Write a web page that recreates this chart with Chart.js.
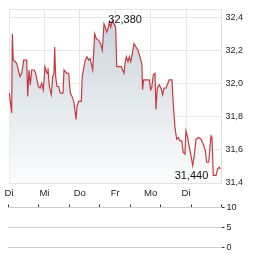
<!DOCTYPE html>
<html>
<head>
<meta charset="utf-8">
<script src="https://cdn.jsdelivr.net/npm/chart.js@4"></script>
<style>
  html, body { margin: 0; padding: 0; background: #ffffff; }
  body { width: 264px; height: 255px; position: relative; overflow: hidden; }
  #main { position: absolute; left: 0; top: 0; }
  #vol { position: absolute; left: 0; top: 200px; }
</style>
</head>
<body>
<canvas id="main" width="264" height="200"></canvas>
<canvas id="vol" width="264" height="55"></canvas>
<script>
// ---- data ----
const dayLabels = ['Di', 'Mi', 'Do', 'Fr', 'Mo', 'Di'];
const yTickValues = [31.4, 31.6, 31.8, 32.0, 32.2, 32.4];
const volumeTickValues = [0, 5, 10];
const volumeValues = [];

// position in trading days since the first "Di"
const timePos = [
  0.01, 0.076, 0.093, 0.121, 0.178, 0.217, 0.263, 0.311, 0.359, 0.415,
  0.500, 0.528, 0.565, 0.601, 0.641, 0.714, 0.754, 0.827, 0.875, 0.923,
  0.968, 1.016, 1.073, 1.101, 1.138, 1.194, 1.234, 1.270, 1.290, 1.318,
  1.355, 1.403, 1.448, 1.525, 1.553, 1.637, 1.685, 1.731, 1.779, 1.827,
  1.872, 1.892, 1.920, 1.968, 2.041, 2.069, 2.117, 2.154, 2.202, 2.250,
  2.287, 2.324, 2.363, 2.420, 2.465, 2.532, 2.589, 2.634, 2.682, 2.719,
  2.758, 2.795, 2.832, 2.871, 2.916, 2.964, 3.012, 3.041, 3.106, 3.171,
  3.247, 3.275, 3.312, 3.360, 3.396, 3.436, 3.481, 3.529, 3.586, 3.642,
  3.699, 3.755, 3.769, 3.803, 3.961, 4.000, 4.029, 4.074, 4.122, 4.150,
  4.187, 4.243, 4.291, 4.339, 4.376, 4.433, 4.469, 4.526, 4.602, 4.639,
  4.687, 4.735, 4.780, 4.828, 4.876, 4.921, 4.969, 4.997, 5.045, 5.073,
  5.138, 5.186, 5.232, 5.280, 5.356, 5.421, 5.486, 5.542, 5.582, 5.638,
  5.703, 5.731, 5.768, 5.844, 5.892, 5.937, 5.966
];
const prices = [
  31.94, 31.82, 32.30, 32.14, 32.13, 32.12, 32.08, 32.04, 32.06, 32.14,
  32.14, 31.92, 32.08, 31.99, 32.08, 32.08, 32.06, 31.98, 31.97, 32.00,
  31.96, 32.10, 32.06, 32.09, 31.98, 31.93, 32.04, 32.06, 32.22, 32.04,
  31.98, 31.98, 31.94, 31.94, 32.08, 32.06, 32.06, 31.94, 31.92, 31.89,
  31.82, 31.78, 31.86, 31.89, 31.89, 32.04, 32.10, 32.14, 32.16, 32.14,
  32.15, 32.12, 32.08, 32.30, 32.27, 32.26, 32.24, 32.20, 32.36, 32.34,
  32.31, 32.33, 32.37, 32.34, 32.38, 32.36, 32.34, 32.10, 32.10, 32.10,
  32.06, 32.12, 32.16, 32.13, 32.16, 32.13, 32.18, 32.24, 32.22, 32.20,
  32.16, 32.11, 31.96, 32.02, 32.02, 31.96, 31.97, 32.05, 32.06, 31.84,
  31.97, 31.99, 31.97, 31.93, 31.97, 31.97, 31.99, 32.02, 32.02, 31.87,
  31.73, 31.66, 31.67, 31.65, 31.65, 31.58, 31.57, 31.71, 31.67, 31.63,
  31.56, 31.50, 31.56, 31.66, 31.67, 31.66, 31.63, 31.59, 31.52, 31.52,
  31.68, 31.67, 31.44, 31.44, 31.48, 31.49, 31.48
];

// ---- helpers ----
const FONT = 'Arial, "Liberation Sans", sans-serif';
const fmt = (v, d) => v.toFixed(d).replace('.', ',');
const RIGHT_EDGE = 221.5;

const extremeLabels = {
  id: 'extremeLabels',
  afterDatasetsDraw(chart) {
    const meta = chart.getDatasetMeta(0);
    let maxI = 0, minI = 0;
    prices.forEach((v, i) => {
      if (v > prices[maxI]) maxI = i;
      if (v < prices[minI]) minI = i;
    });
    const ctx = chart.ctx;
    ctx.save();
    ctx.font = '11px ' + FONT;
    ctx.fillStyle = '#111';
    ctx.textBaseline = 'middle';
    const pMax = meta.data[maxI];
    ctx.textAlign = 'left';
    ctx.fillText(fmt(prices[maxI], 3), pMax.x - 4, pMax.y - 1);
    const pMin = meta.data[minI];
    ctx.textAlign = 'right';
    ctx.fillText(fmt(prices[minI], 3), pMin.x - 5, pMin.y + 1);
    ctx.restore();
  }
};

new Chart(document.getElementById('main'), {
  type: 'line',
  data: {
    datasets: [{
      data: timePos.map((x, i) => ({ x: x, y: prices[i] })),
      borderColor: '#c43c42',
      borderWidth: 1.2,
      pointRadius: 0,
      tension: 0,
      fill: 'start',
      backgroundColor: (c) => {
        const a = c.chart.chartArea;
        if (!a) return 'rgba(205,214,222,0.8)';
        const g = c.chart.ctx.createLinearGradient(0, a.top, 0, a.bottom);
        g.addColorStop(0, '#c6d1da');
        g.addColorStop(0.5, '#e2e7eb');
        g.addColorStop(1, '#fcfcfd');
        return g;
      }
    }]
  },
  options: {
    responsive: false,
    animation: false,
    events: [],
    layout: { padding: { left: 9, top: 7, right: 0, bottom: 0 } },
    plugins: { legend: { display: false }, tooltip: { enabled: false } },
    scales: {
      x: {
        type: 'linear',
        position: 'bottom',
        min: 0,
        max: 6,
        afterBuildTicks: (s) => { s.ticks = [0, 1, 2, 3, 4, 5, 6].map(v => ({ value: v })); },
        afterFit: (s) => { s.height = 200 - 183.5; },
        grid: { color: '#e6e6e6', drawTicks: false },
        border: { color: '#e0e0e0' },
        ticks: {
          autoSkip: false, maxRotation: 0, padding: 4,
          font: { family: FONT, size: 9.5 }, color: '#222',
          callback: (v) => dayLabels[v] !== undefined ? dayLabels[v] : ''
        }
      },
      y: {
        position: 'right',
        min: 31.391,
        max: 32.448,
        afterBuildTicks: (s) => { s.ticks = yTickValues.concat([32.448]).map(v => ({ value: v })); },
        afterFit: (s) => { s.width = 264 - RIGHT_EDGE; },
        grid: { color: '#e6e6e6', drawTicks: false },
        border: { color: '#e0e0e0' },
        ticks: {
          padding: 4,
          font: { family: FONT, size: 9 }, color: '#222',
          callback: (v) => yTickValues.some(t => Math.abs(t - v) < 1e-6) ? fmt(v, 1) : ''
        }
      }
    }
  },
  plugins: [extremeLabels]
});

new Chart(document.getElementById('vol'), {
  type: 'bar',
  data: { datasets: [{ data: volumeValues, backgroundColor: '#9aa7b3' }] },
  options: {
    responsive: false,
    animation: false,
    events: [],
    layout: { padding: { left: 8, top: 0, right: 0, bottom: 7.5 } },
    plugins: { legend: { display: false }, tooltip: { enabled: false } },
    scales: {
      x: {
        type: 'linear',
        position: 'top',
        min: 0,
        max: 6,
        afterBuildTicks: (s) => { s.ticks = [0, 1, 2, 3, 4, 5, 6].map(v => ({ value: v })); },
        afterFit: (s) => { s.height = 7.5; },
        grid: { drawOnChartArea: false, drawTicks: true, tickLength: 3, tickColor: '#333' },
        border: { display: false },
        ticks: { display: false }
      },
      y: {
        position: 'right',
        min: 0,
        max: 10,
        afterBuildTicks: (s) => { s.ticks = volumeTickValues.map(v => ({ value: v })); },
        afterFit: (s) => { s.width = 264 - RIGHT_EDGE; },
        grid: { color: '#cccccc', drawTicks: true, tickLength: 3, tickColor: '#333' },
        border: { display: false },
        ticks: {
          padding: 2,
          font: { family: FONT, size: 9 }, color: '#222',
          callback: (v) => String(v)
        }
      }
    }
  }
});
</script>
</body>
</html>
